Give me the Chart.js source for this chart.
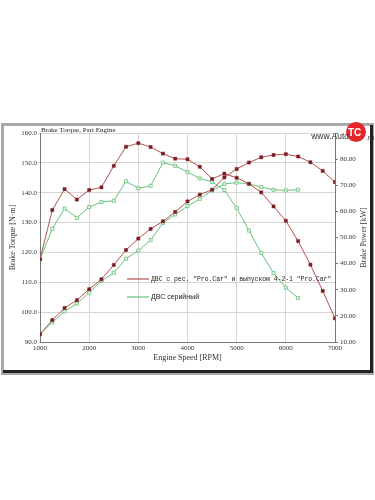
<!DOCTYPE html>
<html>
<head>
<meta charset="utf-8">
<script src="https://cdn.jsdelivr.net/npm/chart.js@4.4.1/dist/chart.umd.min.js"></script>
<style>
  html, body { margin: 0; padding: 0; background: #fff; }
  #wrap { width: 375px; height: 500px; position: relative; }
</style>
</head>
<body>
<div id="wrap"><canvas id="dyno"></canvas></div>
<script>
// Engine speed, RPM
var rpmMod   = [1000, 1250, 1500, 1750, 2000, 2250, 2500, 2750, 3000, 3250, 3500, 3750, 4000,
                4250, 4500, 4750, 5000, 5250, 5500, 5750, 6000, 6250, 6500, 6750, 7000];
var rpmStock = [1000, 1250, 1500, 1750, 2000, 2250, 2500, 2750, 3000, 3250, 3500, 3750, 4000,
                4250, 4500, 4750, 5000, 5250, 5500, 5750, 6000, 6250];

// tuned engine ("Pro.Car")
var torqueMod = [117.7, 134.2, 141.2, 137.7, 140.9, 141.8, 149.0, 155.4, 156.6, 155.3, 153.1, 151.4, 151.2,
                 148.7, 144.6, 146.4, 145.0, 143.0, 140.1, 135.4, 130.6, 123.8, 115.9, 107.1, 97.9];
var powerMod  = [13.0, 18.4, 23.0, 26.0, 30.2, 34.0, 39.5, 45.2, 49.6, 53.3, 56.2, 59.8, 63.8,
                 66.4, 68.3, 73.0, 76.2, 78.7, 80.7, 81.6, 81.9, 81.0, 78.8, 75.5, 71.2];

// stock engine
var torqueStock = [117.7, 127.9, 134.7, 131.6, 135.2, 136.9, 137.3, 143.8, 141.5, 142.3, 150.1, 149.0, 146.9,
                   144.8, 143.6, 140.9, 134.9, 127.3, 119.8, 113.1, 108.2, 104.7];
var powerStock  = [13.0, 17.5, 21.7, 24.7, 28.9, 33.4, 36.5, 41.9, 45.0, 49.0, 55.6, 58.8, 62.0,
                   64.8, 68.0, 70.5, 71.0, 70.5, 69.3, 68.3, 68.0, 68.3];

var labelMod   = 'ДВС с рес. "Pro.Car" и выпуском 4-2-1 "Pro.Car"';
var labelStock = 'ДВС серийный';
var powerTitle = 'Brake Power [kW]';

var redLine = '#b5534f', redDot = '#7b1c24';
var greenLine = '#67c27a';

function pairs(xs, ys) {
    return xs.map(function (x, i) { return { x: x, y: ys[i] }; });
}

// frame, title and watermark behind / over the chart
var decor = {
    id: 'decor',
    beforeDraw: function (chart) {
        var c = chart.ctx;
        c.save();
        c.fillStyle = '#fff';
        c.fillRect(0, 0, chart.width, chart.height);
        c.fillStyle = '#a9a9a9';
        c.fillRect(1, 123, 373, 252);
        c.fillStyle = '#fff';
        c.fillRect(4, 126, 366, 244);
        c.fillStyle = '#222';
        c.fillRect(370, 125, 3, 248);
        c.fillRect(3, 370, 370, 3);
        c.restore();
    },
    afterDraw: function (chart) {
        var c = chart.ctx, a = chart.chartArea;
        c.save();
        c.fillStyle = '#222';
        c.font = '7px "Liberation Serif"';
        c.textBaseline = 'bottom';
        c.fillText('Brake Torque, Part Engine', a.left + 1, a.top + 0.5);

        // right axis title, reads bottom to top like the left one
        c.save();
        c.translate(364, (a.top + a.bottom) / 2);
        c.rotate(-Math.PI / 2);
        c.textAlign = 'center';
        c.textBaseline = 'middle';
        c.font = '8px "Liberation Serif"';
        c.fillStyle = '#333';
        c.fillText(powerTitle, 0, 0);
        c.restore();

        // watermark
        c.beginPath();
        c.arc(356, 132, 10, 0, Math.PI * 2);
        c.fillStyle = '#e3262b';
        c.fill();
        c.textBaseline = 'middle';
        c.fillStyle = '#fff';
        c.font = 'bold 10px "Liberation Sans"';
        c.fillText('TC', 348, 133);
        c.font = '8.5px "Liberation Sans Narrow", "Liberation Sans"';
        c.fillStyle = '#333';
        c.textAlign = 'right';
        c.fillText('www.Auto', 349, 137);
        c.textAlign = 'left';
        c.font = '7px "Liberation Sans"';
        c.fillText('.ru', 366, 138);
        c.restore();
    }
};

// legend sits inside the plot area
var innerLegend = {
    id: 'innerLegend',
    afterDatasetsDraw: function (chart) {
        var c = chart.ctx;
        var rows = [
            { ds: chart.data.datasets[0], y: 279, font: '6.4px "Liberation Mono"' },
            { ds: chart.data.datasets[2], y: 297, font: '7px "Liberation Sans"' }
        ];
        c.save();
        rows.forEach(function (r) {
            c.strokeStyle = r.ds.borderColor;
            c.lineWidth = 1.2;
            c.beginPath();
            c.moveTo(127, r.y);
            c.lineTo(149, r.y);
            c.stroke();
            c.fillStyle = '#222';
            c.font = r.font;
            c.textBaseline = 'middle';
            c.fillText(r.ds.label, 151, r.y + 0.5);
        });
        c.restore();
    }
};

var tickFont = { family: '"Liberation Serif", serif', size: 7 };
var titleFont = { family: '"Liberation Serif", serif', size: 8 };

var chartData = {
    datasets: [{
        label: labelMod,
        data: pairs(rpmMod, torqueMod),
        yAxisID: 'y',
        borderColor: redLine, borderWidth: 1,
        pointStyle: 'rect', pointRadius: 2.2, pointBackgroundColor: redDot, pointBorderColor: redDot, pointBorderWidth: 0.5
    }, {
        label: labelMod + ' power',
        data: pairs(rpmMod, powerMod),
        yAxisID: 'y1',
        borderColor: redLine, borderWidth: 1,
        pointStyle: 'rect', pointRadius: 2.2, pointBackgroundColor: redDot, pointBorderColor: redDot, pointBorderWidth: 0.5
    }, {
        label: labelStock,
        data: pairs(rpmStock, torqueStock),
        yAxisID: 'y',
        borderColor: greenLine, borderWidth: 1,
        pointStyle: 'rect', pointRadius: 2.2, pointBackgroundColor: '#e8f6ea', pointBorderColor: greenLine, pointBorderWidth: 0.8
    }, {
        label: labelStock + ' power',
        data: pairs(rpmStock, powerStock),
        yAxisID: 'y1',
        borderColor: greenLine, borderWidth: 1,
        pointStyle: 'rect', pointRadius: 2.2, pointBackgroundColor: '#e8f6ea', pointBorderColor: greenLine, pointBorderWidth: 0.8
    }]
};

var chartOptions = {
    responsive: true,
    maintainAspectRatio: false,
    animation: false,
    layout: { padding: { top: 133, bottom: 133, left: 0, right: 0 } },
    plugins: { legend: { display: false }, tooltip: { enabled: false } },
    scales: {
        x: {
            type: 'linear', min: 1000, max: 7000,
            afterFit: function (s) { s.height = 25; },
            ticks: { stepSize: 1000, font: tickFont, color: '#333', padding: 2, maxRotation: 0,
                     callback: function (v) { return String(v); } },
            grid: { color: '#d6d6d6', tickLength: 0 },
            border: { color: '#777' },
            title: { display: true, text: 'Engine Speed [RPM]', font: titleFont, color: '#333', padding: { top: 0, bottom: 4 } }
        },
        y: {
            position: 'left', min: 90, max: 160,
            afterFit: function (s) { s.width = 40; },
            ticks: { stepSize: 10, font: tickFont, color: '#333', padding: 1,
                     callback: function (v) { return v.toFixed(1); } },
            grid: { color: '#d6d6d6', tickLength: 2 },
            border: { color: '#777' },
            title: { display: true, text: 'Brake Torque [N·m]', font: titleFont, color: '#333', padding: { top: 8, bottom: 0 } }
        },
        y1: {
            position: 'right', min: 10, max: 90,
            afterFit: function (s) { s.width = 40; },
            ticks: { stepSize: 10, font: tickFont, color: '#333', padding: 2,
                     callback: function (v) { return v === 90 ? '' : v.toFixed(2); } },
            grid: { drawOnChartArea: false, color: '#777', tickLength: 3 },
            border: { color: '#777' },
            title: { display: false }
        }
    }
};

var ctx = document.getElementById('dyno');
var dynoChart = new Chart(ctx, {
    type: 'line',
    data: chartData,
    options: chartOptions,
    plugins: [decor, innerLegend]
});
</script>
</body>
</html>
